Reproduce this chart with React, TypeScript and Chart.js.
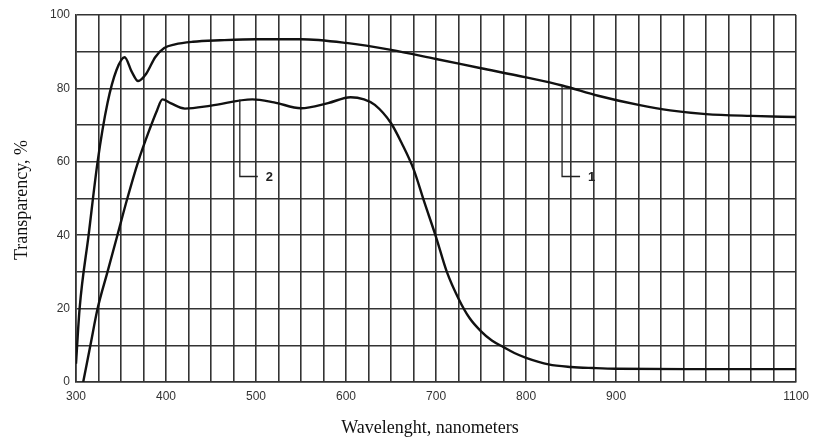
import React, { useEffect, useRef } from "react";
import { Chart, registerables } from "chart.js";

Chart.register(...registerables);

const curve1Wavelengths = [300, 304, 314, 324, 335, 345, 354, 362, 369, 378, 388, 398, 410, 430, 460, 500, 550, 600, 650, 700, 750, 800, 840, 880, 925, 960, 1000, 1050, 1100];
const curve1Values = [5, 20, 40, 60, 76, 85, 88.5, 84.5, 82, 84, 88.5, 91, 92, 92.7, 93.1, 93.4, 93.4, 92.4, 90.5, 88, 85.5, 83, 80.8, 78, 75.5, 74, 73, 72.5, 72.2];

const curve2Wavelengths = [308, 316, 324, 335, 346, 357, 369, 382, 390, 396, 405, 421, 450, 496, 520, 550, 580, 605, 620, 632, 650, 662, 675, 687, 700, 712, 725, 737, 750, 762, 775, 787, 800, 825, 850, 875, 900, 1000, 1100];
const curve2Values = [0, 10, 20, 30, 40, 50, 60, 69, 74, 77, 76, 74.5, 75.3, 77, 76.2, 74.6, 76, 77.6, 77, 75.5, 70.5, 65, 58, 49, 39.5, 30, 22.7, 17.5, 13.8, 11.3, 9.5, 7.9, 6.6, 4.8, 4.1, 3.8, 3.6, 3.5, 3.5];

const xTickLabels = [300, 400, 500, 600, 700, 800, 900, 1100];
const yTickLabels = [0, 20, 40, 60, 80, 100];

const curveLabels = ["1", "2"];
const leaderX = [840, 482];
const leaderTop = [80.8, 77];
const leaderBottom = 56;

const xTitle = "Wavelenght, nanometers";
const yTitle = "Transparency, %";

const annotate = {
  id: "annotate",
  afterDatasetsDraw(chart: any) {
    const ctx = chart.ctx;
    const xs = chart.scales.x;
    const ys = chart.scales.y;
    ctx.save();
    ctx.strokeStyle = "#222";
    ctx.lineWidth = 1.3;
    ctx.fillStyle = "#222";
    ctx.font = "bold 13px 'Liberation Sans', Arial, sans-serif";
    ctx.textBaseline = "middle";
    ctx.textAlign = "left";
    for (let i = 0; i < curveLabels.length; i++) {
      const px = xs.getPixelForValue(leaderX[i]);
      const pt = ys.getPixelForValue(leaderTop[i]);
      const pb = ys.getPixelForValue(leaderBottom);
      ctx.beginPath();
      ctx.moveTo(px, pt);
      ctx.lineTo(px, pb);
      ctx.lineTo(px + 18, pb);
      ctx.stroke();
      ctx.fillText(curveLabels[i], px + 26, pb + 1);
    }
    ctx.fillStyle = "#111";
    ctx.font = "18px 'Liberation Serif', 'Times New Roman', serif";
    ctx.textAlign = "center";
    ctx.textBaseline = "middle";
    ctx.fillText(xTitle, 430, 428);
    ctx.translate(22, 200);
    ctx.rotate(-Math.PI / 2);
    ctx.fillText(yTitle, 0, 0);
    ctx.restore();
  },
};

export default function App() {
  const ref = useRef<HTMLCanvasElement>(null);
  useEffect(() => {
    document.body.style.margin = "0";
    const toPts = (xs: number[], ys: number[]) => xs.map((x, i) => ({ x, y: ys[i] }));
    const chart = new Chart(ref.current!, {
      type: "line",
      data: {
        datasets: [
          {
            label: "1",
            data: toPts(curve1Wavelengths, curve1Values),
            borderColor: "#111",
            borderWidth: 2.4,
            pointRadius: 0,
            cubicInterpolationMode: "monotone",
            fill: false,
          },
          {
            label: "2",
            data: toPts(curve2Wavelengths, curve2Values),
            borderColor: "#111",
            borderWidth: 2.4,
            pointRadius: 0,
            cubicInterpolationMode: "monotone",
            fill: false,
          },
        ],
      },
      options: {
        animation: false,
        responsive: false,
        layout: { padding: { top: 15, right: 18, left: 0, bottom: 0 } },
        plugins: { legend: { display: false }, tooltip: { enabled: false } },
        scales: {
          x: {
            type: "linear",
            min: 300,
            max: 1100,
            afterFit: (s: any) => { s.height = 59; },
            grid: { color: "#333", lineWidth: 1.6, drawTicks: false },
            border: { color: "#333", width: 1.6 },
            ticks: {
              stepSize: 25,
              autoSkip: false,
              maxRotation: 0,
              padding: 7,
              color: "#333",
              font: { size: 12, family: "'Liberation Sans', Arial, sans-serif" },
              callback: (v: any) => (xTickLabels.includes(Number(v)) ? String(v) : ""),
            },
          },
          y: {
            min: 0,
            max: 100,
            afterFit: (s: any) => { s.width = 76; },
            grid: { color: "#333", lineWidth: 1.6, drawTicks: false },
            border: { color: "#333", width: 1.6 },
            ticks: {
              stepSize: 10,
              autoSkip: false,
              padding: 6,
              color: "#333",
              font: { size: 12, family: "'Liberation Sans', Arial, sans-serif" },
              callback: (v: any) => (yTickLabels.includes(Number(v)) ? String(v) : ""),
            },
          },
        },
      },
      plugins: [annotate],
    } as any);
    return () => chart.destroy();
  }, []);
  return (
    <div style={{ position: "absolute", left: 0, top: 0, width: 816, height: 441 }}>
      <canvas ref={ref} width={816} height={441} />
    </div>
  );
}
